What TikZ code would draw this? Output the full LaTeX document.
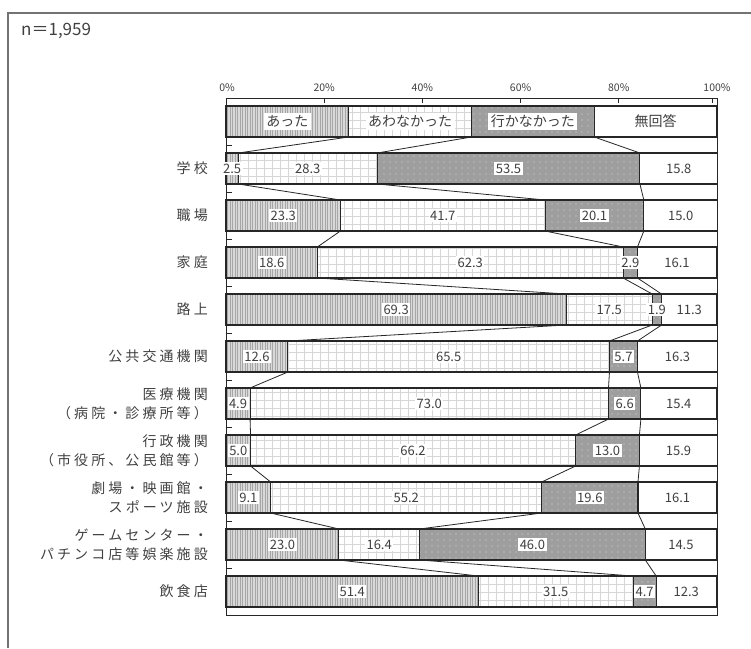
\documentclass[tikz,border=0pt]{standalone}
\usepackage{fontspec}
\setmainfont{Noto Sans CJK JP}
\newfontfamily\catfont{Noto Sans CJK JP}[LetterSpace=22]
\usetikzlibrary{positioning,patterns,patterns.meta}
\pgfdeclarelayer{front}
\pgfsetlayers{main,front}

\begin{document}
\begin{tikzpicture}[
    x=1pt, y=-1pt,
    seg/.style={
        rectangle,
        draw=black!85,
        line width=1.1pt,
        minimum height=31pt,
        inner sep=0pt,
        outer sep=0pt
    },
    w/.style={minimum width=#1*4.91pt},
    v/.style={
        w=#1,
        append after command={
           \pgfextra{
            \begin{pgfonlayer}{front}
            \node[val] at (\tikzlastnode) {#1};
            \end{pgfonlayer}
        }
        }
    },
    val/.style={fill=white, inner sep=1.5pt, text=black!75, font=\fontsize{13}{15}\selectfont},
    key/.style={val, inner sep=2.5pt, font=\fontsize{14}{16}\selectfont},
    had/.style={seg, preaction={fill=black!15}, pattern={Lines[angle=90,distance=2.5pt,line width=0.5pt]}, pattern color=black!35},
    missed/.style={seg, preaction={fill=white}, pattern={Hatch[distance=8pt,line width=0.4pt]}, pattern color=black!16},
    notgo/.style={seg, preaction={fill=black!38}, pattern={Dots[distance=6pt,radius=0.6pt]}, pattern color=black!15},
    noans/.style={seg, fill=white},
    cat/.style={anchor=east, align=right, inner sep=0pt, text=black!75, font=\catfont\fontsize{14}{19}\selectfont},
    axis/.style={inner sep=0pt, text=black!75, font=\fontsize{10.5}{12}\selectfont},
    link/.style={black!85, line width=0.8pt}
]
\useasboundingbox (0,0) rectangle (751,648);

% OUTER FRAME
\draw[black!55, line width=1.8pt] (751,13) -- (8,13) -- (8,648);
\node[anchor=west, inner sep=0pt, text=black!75, font=\fontsize{17}{19}\selectfont] (n) at (21,31) {n＝1,959};

% AXIS
\node[axis] (p0) at (227,88) {0\%};
\node[axis] (p20) at (324.2,88) {20\%};
\node[axis] (p40) at (422.4,88) {40\%};
\node[axis] (p60) at (520.6,88) {60\%};
\node[axis] (p80) at (618.8,88) {80\%};
\node[axis] (p100) at (717,88) {100\%};

% LEGEND
\node[had, w=25, anchor=west, label={[key]center:あった}] (a0) at (226,121.5) {};
\node[missed, w=25, right=0pt of a0, label={[key]center:あわなかった}] (b0) {};
\node[notgo, w=25, right=0pt of b0, label={[key]center:行かなかった}] (c0) {};
\node[noans, w=25, right=0pt of c0, label={[key]center:無回答}] (d0) {};

% ROW 1
\node[cat] (l1) at (208,168.5) {学校};
\node[had, v=2.5, anchor=west] (a1) at (226,168.5) {};
\node[missed, v=28.3, right=0pt of a1] (b1) {};
\node[notgo, v=53.5, right=0pt of b1] (c1) {};
\node[noans, v=15.8, right=0pt of c1] (d1) {};

% ROW 2
\node[cat] (l2) at (208,215.5) {職場};
\node[had, v=23.3, anchor=west] (a2) at (226,215.5) {};
\node[missed, v=41.7, right=0pt of a2] (b2) {};
\node[notgo, v=20.1, right=0pt of b2] (c2) {};
\node[noans, v=15.0, right=0pt of c2] (d2) {};

% ROW 3
\node[cat] (l3) at (208,262.5) {家庭};
\node[had, v=18.6, anchor=west] (a3) at (226,262.5) {};
\node[missed, v=62.3, right=0pt of a3] (b3) {};
\node[notgo, v=2.9, right=0pt of b3] (c3) {};
\node[noans, v=16.1, right=0pt of c3] (d3) {};

% ROW 4
\node[cat] (l4) at (208,309.5) {路上};
\node[had, v=69.3, anchor=west] (a4) at (226,309.5) {};
\node[missed, v=17.5, right=0pt of a4] (b4) {};
\node[notgo, v=1.9, right=0pt of b4] (c4) {};
\node[noans, v=11.3, right=0pt of c4] (d4) {};

% ROW 5
\node[cat] (l5) at (208,356.5) {公共交通機関};
\node[had, v=12.6, anchor=west] (a5) at (226,356.5) {};
\node[missed, v=65.5, right=0pt of a5] (b5) {};
\node[notgo, v=5.7, right=0pt of b5] (c5) {};
\node[noans, v=16.3, right=0pt of c5] (d5) {};

% ROW 6
\node[cat] (l6) at (208,403.5) {医療機関\\（病院・診療所等）};
\node[had, v=4.9, anchor=west] (a6) at (226,403.5) {};
\node[missed, v=73.0, right=0pt of a6] (b6) {};
\node[notgo, v=6.6, right=0pt of b6] (c6) {};
\node[noans, v=15.4, right=0pt of c6] (d6) {};

% ROW 7
\node[cat] (l7) at (208,450.5) {行政機関\\（市役所、公民館等）};
\node[had, v=5.0, anchor=west] (a7) at (226,450.5) {};
\node[missed, v=66.2, right=0pt of a7] (b7) {};
\node[notgo, v=13.0, right=0pt of b7] (c7) {};
\node[noans, v=15.9, right=0pt of c7] (d7) {};

% ROW 8
\node[cat] (l8) at (208,497.5) {劇場・映画館・\\スポーツ施設};
\node[had, v=9.1, anchor=west] (a8) at (226,497.5) {};
\node[missed, v=55.2, right=0pt of a8] (b8) {};
\node[notgo, v=19.6, right=0pt of b8] (c8) {};
\node[noans, v=16.1, right=0pt of c8] (d8) {};

% ROW 9
\node[cat] (l9) at (208,544.5) {ゲームセンター・\\パチンコ店等娯楽施設};
\node[had, v=23.0, anchor=west] (a9) at (226,544.5) {};
\node[missed, v=16.4, right=0pt of a9] (b9) {};
\node[notgo, v=46.0, right=0pt of b9] (c9) {};
\node[noans, v=14.5, right=0pt of c9] (d9) {};

% ROW 10
\node[cat] (l10) at (208,591.5) {飲食店};
\node[had, v=51.4, anchor=west] (a10) at (226,591.5) {};
\node[missed, v=31.5, right=0pt of a10] (b10) {};
\node[notgo, v=4.7, right=0pt of b10] (c10) {};
\node[noans, v=12.3, right=0pt of c10] (d10) {};

% --- SERIES LINES ---
\draw[link] (a0.south east) -- (a1.north east) (b0.south east) -- (b1.north east) (c0.south east) -- (c1.north east);
\draw[link] (a1.south east) -- (a2.north east) (b1.south east) -- (b2.north east) (c1.south east) -- (c2.north east);
\draw[link] (a2.south east) -- (a3.north east) (b2.south east) -- (b3.north east) (c2.south east) -- (c3.north east);
\draw[link] (a3.south east) -- (a4.north east) (b3.south east) -- (b4.north east) (c3.south east) -- (c4.north east);
\draw[link] (a4.south east) -- (a5.north east) (b4.south east) -- (b5.north east) (c4.south east) -- (c5.north east);
\draw[link] (a5.south east) -- (a6.north east) (b5.south east) -- (b6.north east) (c5.south east) -- (c6.north east);
\draw[link] (a6.south east) -- (a7.north east) (b6.south east) -- (b7.north east) (c6.south east) -- (c7.north east);
\draw[link] (a7.south east) -- (a8.north east) (b7.south east) -- (b8.north east) (c7.south east) -- (c8.north east);
\draw[link] (a8.south east) -- (a9.north east) (b8.south east) -- (b9.north east) (c8.south east) -- (c9.north east);
\draw[link] (a9.south east) -- (a10.north east) (b9.south east) -- (b10.north east) (c9.south east) -- (c10.north east);

% PLOT FRAME AND TICKS
\draw[black!85, line width=1pt] (226,98) rectangle (717,615);
\draw[black!85, line width=0.8pt]
    (324.2,98) -- ++(0,5) (422.4,98) -- ++(0,5) (520.6,98) -- ++(0,5) (618.8,98) -- ++(0,5) (712,98) -- ++(0,5)
    (226,145) -- ++(6,0) (226,192) -- ++(6,0) (226,239) -- ++(6,0) (226,286) -- ++(6,0) (226,333) -- ++(6,0)
    (226,380) -- ++(6,0) (226,427) -- ++(6,0) (226,474) -- ++(6,0) (226,521) -- ++(6,0) (226,568) -- ++(6,0);

\end{tikzpicture}
\end{document}
